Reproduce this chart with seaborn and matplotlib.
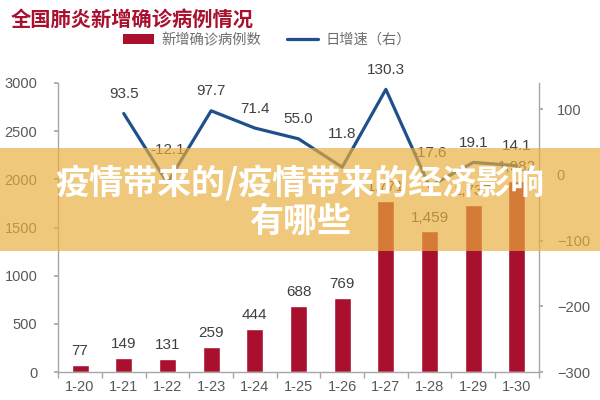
import matplotlib
matplotlib.use("Agg")
import matplotlib.pyplot as plt
import numpy as np
import pandas as pd
import seaborn as sns
from matplotlib.patches import Rectangle, Patch
from matplotlib.lines import Line2D

# ---- data ----
dates = ["1-20", "1-21", "1-22", "1-23", "1-24", "1-25", "1-26", "1-27", "1-28", "1-29", "1-30"]
new_cases = [77, 149, 131, 259, 444, 688, 769, 1771, 1459, 1737, 1982]
growth_dates = ["1-21", "1-22", "1-23", "1-24", "1-25", "1-26", "1-27", "1-28", "1-29", "1-30"]
growth = [93.5, -12.1, 97.7, 71.4, 55.0, 11.8, 130.3, -17.6, 19.1, 14.1]

title = "全国肺炎新增确诊病例情况"
bar_name = "新增确诊病例数"
line_name = "日增速（右）"
banner_lines = ["疫情带来的/疫情带来的经济影响", "有哪些"]

sns.set_theme(style="white")
plt.rcParams["font.family"] = ["Liberation Sans", "Noto Sans CJK SC", "DejaVu Sans"]

BAR = "#A8102E"
LINE = "#1F4F8C"
GRAY = "#595959"
SPINE = "#A6A6A6"

fig = plt.figure(figsize=(6, 4), dpi=100)
ax = fig.add_axes([0.097, 0.07, 0.801, 0.7225])

df_bar = pd.DataFrame({"date": dates, "cases": new_cases})
sns.barplot(data=df_bar, x="date", y="cases", order=dates, color=BAR,
            saturation=1, width=0.39, ax=ax)
ax.set_xlim(-0.5, len(dates) - 0.5)
ax.set_ylim(0, 3000)
ax.set_yticks(np.arange(0, 3001, 500))
ax.set_xlabel("")
ax.set_ylabel("")

for i, v in enumerate(new_cases):
    ax.annotate(f"{v:,}" if v >= 1000 else f"{v}", (i, v), xytext=(0, 5),
                textcoords="offset points", ha="center", va="bottom",
                fontsize=11, color="#404040")

ax2 = ax.twinx()
gx = [dates.index(d) for d in growth_dates]
df_line = pd.DataFrame({"pos": gx, "growth": growth})
sns.lineplot(data=df_line, x="pos", y="growth", color=LINE, linewidth=2.3,
             ax=ax2, sort=False)
ax2.set_ylim(-300, 140)
ax2.set_yticks([-300, -200, -100, 0, 100])
ax2.set_xlim(-0.5, len(dates) - 0.5)
ax2.set_xlabel("")
ax2.set_ylabel("")
for x, v in zip(gx, growth):
    off = 19 if -20 < v < 12 else 9
    ax2.annotate(f"{v:.1f}", (x, v), xytext=(0, off), textcoords="offset points",
                 ha="center", va="bottom", fontsize=11, color="#404040")

# styling
for a in (ax, ax2):
    a.spines["top"].set_visible(False)
    for s in ("left", "right", "bottom"):
        a.spines[s].set_color(SPINE)
        a.spines[s].set_linewidth(1.0)
ax.spines["right"].set_visible(False)
ax2.spines["left"].set_visible(False)
ax2.spines["bottom"].set_visible(False)

ax.tick_params(axis="y", which="major", length=3, color=SPINE, labelsize=10.5,
               labelcolor=GRAY, direction="out", pad=12, left=True)
ax2.tick_params(axis="y", which="major", length=3, color=SPINE, labelsize=10.5,
                labelcolor=GRAY, direction="out", pad=10, right=True)
ax.set_xticks(range(len(dates)))
ax.set_xticklabels(dates)
ax.set_xticks(np.arange(-0.5, len(dates), 1), minor=True)
ax.tick_params(axis="x", which="major", length=0, labelsize=10.5,
               labelcolor=GRAY, pad=6)
ax.tick_params(axis="x", which="minor", length=4, color=SPINE,
               direction="out", bottom=True)
ax2.tick_params(axis="x", which="both", length=0, labelbottom=False)

# title
fig.text(0.017, 0.977, title, fontsize=14.6, fontweight="bold", color="#A8102E",
         family=["Noto Sans CJK SC"], ha="left", va="top")

# legend
handles = [Patch(facecolor=BAR, edgecolor="none"),
           Line2D([0], [0], color=LINE, lw=2.3)]
leg = fig.legend(handles, [bar_name, line_name], loc="center",
                 bbox_to_anchor=(0.445, 0.9), ncol=2, frameon=False,
                 prop={"family": "Noto Sans CJK SC", "size": 10.3},
                 handlelength=2.2, handleheight=0.6, columnspacing=1.8,
                 handletextpad=0.5)
for t in leg.get_texts():
    t.set_color("#6E6E6E")

# overlay banner
banner = Rectangle((0, 0.372), 1, 0.258, transform=fig.transFigure,
                   facecolor=(233/255, 175/255, 60/255), alpha=0.68,
                   edgecolor="none", zorder=10)
fig.add_artist(banner)
fig.text(0.5, 0.543, banner_lines[0], fontsize=24.5, fontweight="bold",
         color="white", family=["Noto Sans CJK SC"], ha="center", va="center",
         zorder=11)
fig.text(0.5, 0.445, banner_lines[1], fontsize=24.5, fontweight="bold",
         color="white", family=["Noto Sans CJK SC"], ha="center", va="center",
         zorder=11)

fig.savefig("out.png", dpi=100)
